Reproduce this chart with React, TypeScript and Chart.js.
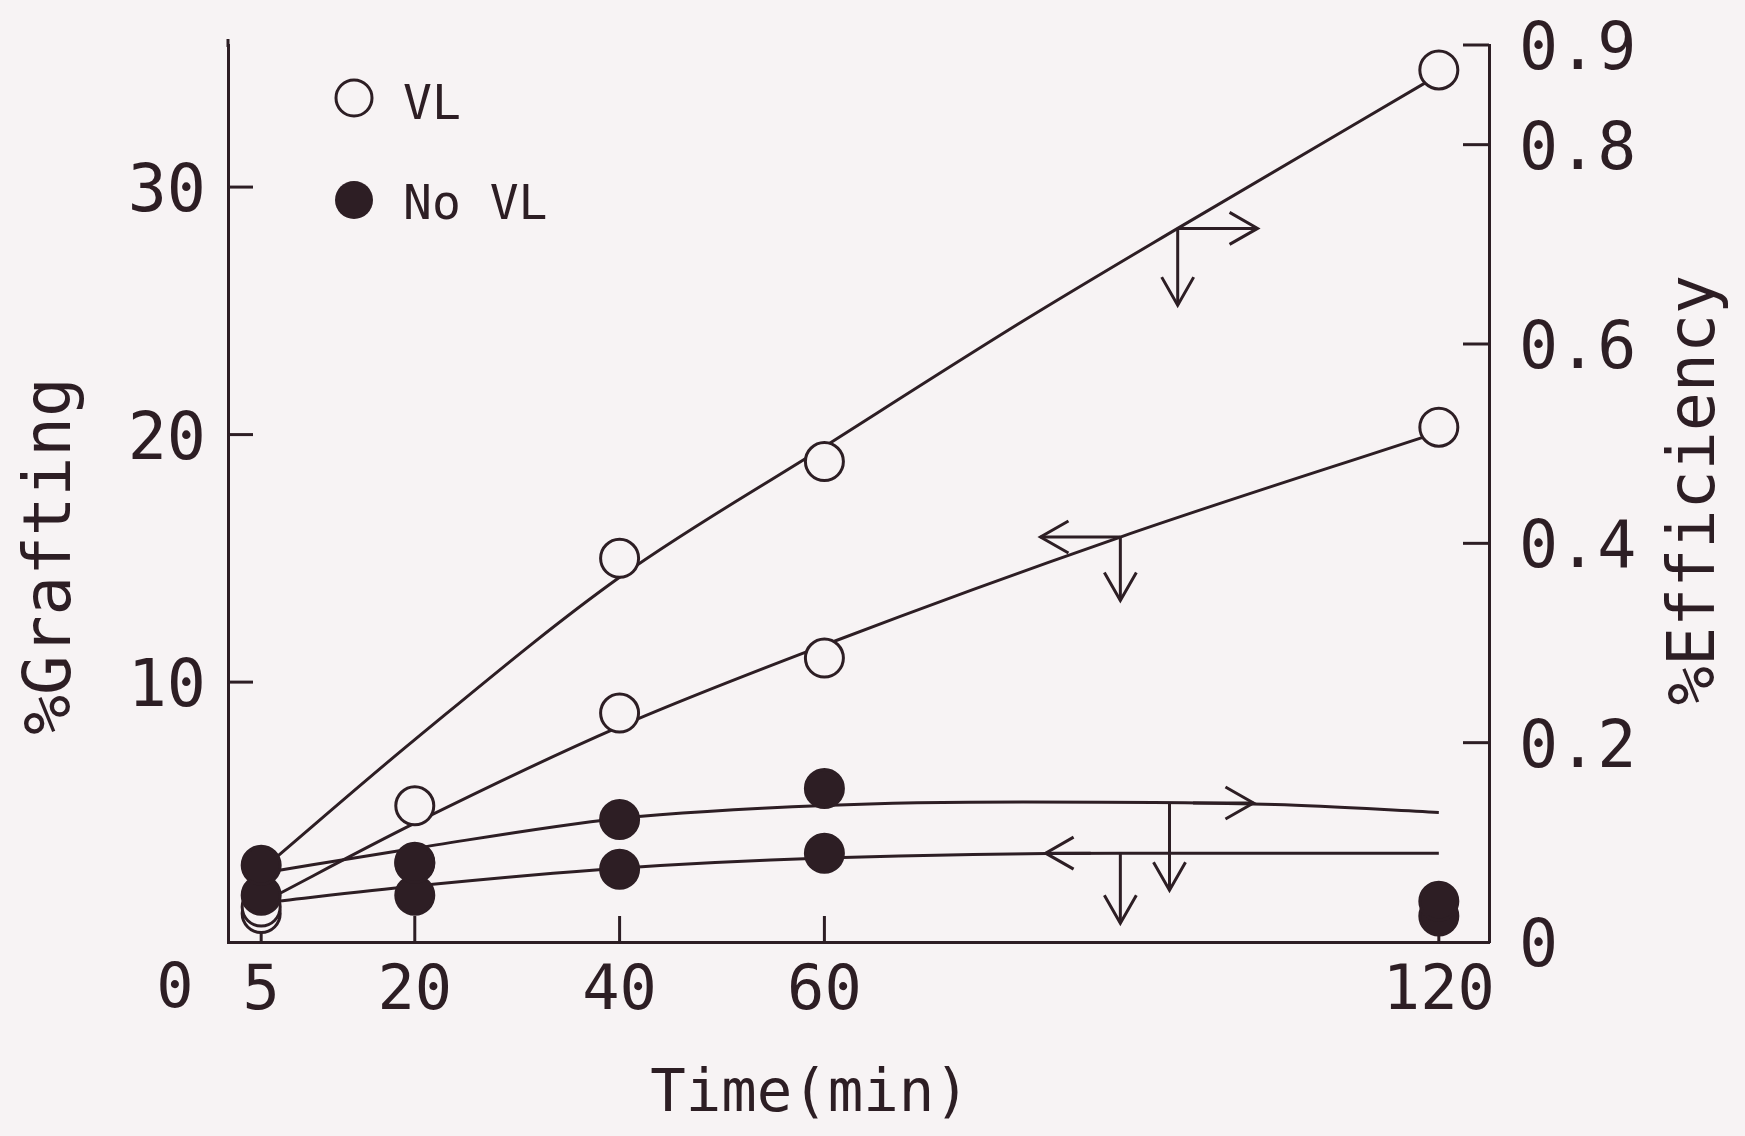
import React, { useEffect, useRef } from "react";
import { Chart, registerables } from "chart.js";

Chart.register(...registerables);

const INK = "#2d1e24";
const PAPER = "#f7f3f4";
const FONT = "'DejaVu Sans Mono', monospace";

// measured points (time in min)
const pointTimes = [5, 20, 40, 60, 120];
const vlGrafting = [0.65, 5.0, 8.75, 10.97, 20.3];
const vlEfficiency = [0.035, 0.08, 0.385, 0.482, 0.875];
const noVlGrafting = [1.39, 1.39, 2.44, 3.09, 0.55];
const noVlEfficiency = [0.077, 0.079, 0.123, 0.154, 0.041];

// hand-drawn fitted curves
const vlGraftCurveX = [5, 20, 40, 60, 88.9, 120];
const vlGraftCurveY = [1.07, 4.3, 8.2, 11.5, 15.86, 20.1];
const vlEffCurveX = [5, 20, 40, 60, 79.4, 94.5, 120];
const vlEffCurveY = [0.072, 0.203, 0.366, 0.497, 0.623, 0.716, 0.87];
const noVlGraftCurveX = [5, 20, 40, 60, 88.9, 120];
const noVlGraftCurveY = [1.07, 1.76, 2.48, 2.89, 3.09, 3.09];
const noVlEffCurveX = [5, 20, 40, 60, 79.4, 104, 120];
const noVlEffCurveY = [0.069, 0.094, 0.124, 0.137, 0.1405, 0.138, 0.13];

// tick labels
const xTicks = [5, 20, 40, 60, 120];
const graftTicks = [10, 20, 30];
const effTicks = [0, 0.2, 0.4, 0.6, 0.8, 0.9];

// axis-indicator arrows: [axis, x1, y1, x2, y2] (head at end)
const arrows: [string, number, number, number, number][] = [
  ["yE", 94.5, 0.716, 102.3, 0.716],
  ["yE", 94.5, 0.716, 94.5, 0.639],
  ["yG", 88.9, 15.86, 81.1, 15.86],
  ["yG", 88.9, 15.86, 88.9, 13.3],
  ["yE", 96, 0.1395, 101.9, 0.1395],
  ["yE", 93.7, 0.14, 93.7, 0.052],
  ["yG", 86, 3.09, 81.6, 3.09],
  ["yG", 88.9, 3.09, 88.9, 0.26],
];

const xy = (xs: number[], ys: number[]) => xs.map((x, i) => ({ x, y: ys[i] }));

function strokeLine(ctx: CanvasRenderingContext2D, x1: number, y1: number, x2: number, y2: number) {
  ctx.beginPath();
  ctx.moveTo(x1, y1);
  ctx.lineTo(x2, y2);
  ctx.stroke();
}

function drawArrow(ctx: CanvasRenderingContext2D, x1: number, y1: number, x2: number, y2: number) {
  strokeLine(ctx, x1, y1, x2, y2);
  const a = Math.atan2(y2 - y1, x2 - x1);
  const L = 28, W = 16;
  const bx = x2 - L * Math.cos(a), by = y2 - L * Math.sin(a);
  const px = -Math.sin(a), py = Math.cos(a);
  ctx.beginPath();
  ctx.moveTo(bx + px * W, by + py * W);
  ctx.lineTo(x2, y2);
  ctx.lineTo(bx - px * W, by - py * W);
  ctx.stroke();
}

const paperPlugin = {
  id: "paper",
  beforeDraw(chart: any) {
    const ctx = chart.ctx;
    ctx.save();
    ctx.fillStyle = PAPER;
    ctx.fillRect(0, 0, chart.width, chart.height);
    ctx.restore();
  },
};

const decorPlugin = {
  id: "decor",
  beforeDatasetsDraw(chart: any) {
    const { ctx, chartArea: ca, scales } = chart;
    ctx.save();
    ctx.strokeStyle = INK;
    ctx.lineWidth = 3;
    for (const v of xTicks) {
      const p = scales.x.getPixelForValue(v);
      strokeLine(ctx, p, ca.bottom, p, ca.bottom - 26);
    }
    for (const v of graftTicks) {
      const p = scales.yG.getPixelForValue(v);
      strokeLine(ctx, ca.left, p, ca.left + 25, p);
    }
    for (const v of effTicks) {
      if (v === 0) continue;
      const p = scales.yE.getPixelForValue(v);
      strokeLine(ctx, ca.right, p, ca.right - 26, p);
    }
    strokeLine(ctx, ca.left, ca.top + 2, ca.left, ca.top - 6);
    ctx.restore();
  },
  afterDatasetsDraw(chart: any) {
    const { ctx, scales } = chart;
    ctx.save();
    ctx.strokeStyle = INK;
    ctx.lineWidth = 3;
    for (const [ax, x1, y1, x2, y2] of arrows) {
      const s = scales[ax];
      drawArrow(
        ctx,
        scales.x.getPixelForValue(x1),
        s.getPixelForValue(y1),
        scales.x.getPixelForValue(x2),
        s.getPixelForValue(y2)
      );
    }
    ctx.restore();
  },
  afterDraw(chart: any) {
    const { ctx, chartArea: ca } = chart;
    ctx.save();
    ctx.fillStyle = INK;
    ctx.strokeStyle = INK;
    ctx.textBaseline = "middle";
    ctx.textAlign = "center";

    // x origin label
    ctx.font = `62px ${FONT}`;
    ctx.fillText("0", ca.left - 53, 991);

    // axis titles
    ctx.font = `59px ${FONT}`;
    ctx.fillText("Time(min)", 810, 1096);

    ctx.save();
    ctx.translate(53, 556);
    ctx.rotate(-Math.PI / 2);
    ctx.font = `66px ${FONT}`;
    ctx.fillText("%Grafting", 0, 0);
    ctx.restore();

    ctx.save();
    ctx.translate(1697, 490);
    ctx.rotate(-Math.PI / 2);
    ctx.font = `65px ${FONT}`;
    ctx.fillText("%Efficiency", 0, 0);
    ctx.restore();

    // legend
    const lx = ca.left + 126;
    ctx.lineWidth = 3;
    ctx.beginPath();
    ctx.arc(lx, ca.top + 53, 18, 0, Math.PI * 2);
    ctx.fillStyle = PAPER;
    ctx.fill();
    ctx.stroke();
    ctx.beginPath();
    ctx.arc(lx, ca.top + 155, 19, 0, Math.PI * 2);
    ctx.fillStyle = INK;
    ctx.fill();
    ctx.textAlign = "left";
    ctx.font = `48px ${FONT}`;
    ctx.fillText("VL", lx + 49, ca.top + 62);
    ctx.fillText("No VL", lx + 49, ca.top + 162);
    ctx.restore();
  },
};

const pointDs = (label: string, data: number[], axis: string, filled: boolean) => ({
  label,
  data: xy(pointTimes, data),
  yAxisID: axis,
  showLine: false,
  pointRadius: 19,
  pointHoverRadius: 19,
  pointBorderWidth: 3,
  pointBackgroundColor: filled ? INK : PAPER,
  pointBorderColor: INK,
  borderColor: INK,
  backgroundColor: filled ? INK : PAPER,
});

const curveDs = (label: string, xs: number[], ys: number[], axis: string) => ({
  label,
  data: xy(xs, ys),
  yAxisID: axis,
  showLine: true,
  pointRadius: 0,
  pointHoverRadius: 0,
  borderWidth: 3,
  borderColor: INK,
  fill: false,
  cubicInterpolationMode: "monotone" as const,
});

const tickFont = (size: number, lh = 1) => ({ family: FONT, size, lineHeight: lh });
// an empty first line nudges the single visible label down so digits centre on the tick
const nudged = (s: string) => ["", s];

export default function App() {
  const ref = useRef<HTMLCanvasElement>(null);

  useEffect(() => {
    if (!ref.current) return;
    const chart = new Chart(ref.current, {
      type: "line",
      data: {
        datasets: [
          pointDs("No VL efficiency", noVlEfficiency, "yE", true),
          pointDs("No VL grafting", noVlGrafting, "yG", true),
          pointDs("VL efficiency", vlEfficiency, "yE", false),
          pointDs("VL grafting", vlGrafting, "yG", false),
          curveDs("VL efficiency fit", vlEffCurveX, vlEffCurveY, "yE"),
          curveDs("VL grafting fit", vlGraftCurveX, vlGraftCurveY, "yG"),
          curveDs("No VL efficiency fit", noVlEffCurveX, noVlEffCurveY, "yE"),
          curveDs("No VL grafting fit", noVlGraftCurveX, noVlGraftCurveY, "yG"),
        ] as any,
      },
      options: {
        animation: false,
        responsive: false,
        maintainAspectRatio: false,
        devicePixelRatio: 1,
        events: [],
        layout: { padding: { top: 45, left: 0, right: 0, bottom: 0 } },
        plugins: { legend: { display: false }, tooltip: { enabled: false } },
        scales: {
          x: {
            type: "linear",
            position: "bottom",
            min: 1.76,
            max: 124.9,
            afterFit: (s: any) => { s.height = 194; s.paddingLeft = 0; s.paddingRight = 0; },
            afterBuildTicks: (s: any) => { s.ticks = xTicks.map((v) => ({ value: v })); },
            grid: { display: false, drawTicks: false },
            border: { display: true, color: INK, width: 3 },
            ticks: {
              autoSkip: false,
              maxRotation: 0,
              minRotation: 0,
              padding: 20,
              color: INK,
              font: tickFont(62),
              callback: (v: any) => String(v),
            },
          },
          yG: {
            type: "linear",
            position: "left",
            min: -0.5,
            max: 35.74,
            afterFit: (s: any) => { s.width = 228; s.paddingTop = 0; s.paddingBottom = 0; },
            afterBuildTicks: (s: any) => { s.ticks = graftTicks.map((v) => ({ value: v })); },
            grid: { display: false, drawTicks: false },
            border: { display: true, color: INK, width: 3 },
            ticks: {
              autoSkip: false,
              padding: 22,
              color: INK,
              font: tickFont(65, 0.22),
              callback: (v: any) => nudged(String(v)),
            },
          },
          yE: {
            type: "linear",
            position: "right",
            min: 0,
            max: 0.9,
            afterFit: (s: any) => { s.width = 256; s.paddingTop = 0; s.paddingBottom = 0; },
            afterBuildTicks: (s: any) => { s.ticks = effTicks.map((v) => ({ value: v })); },
            grid: { display: false, drawTicks: false },
            border: { display: true, color: INK, width: 3 },
            ticks: {
              autoSkip: false,
              padding: 30,
              color: INK,
              font: tickFont(65, 0.22),
              callback: (v: any) => nudged(v === 0 ? "0" : Number(v).toFixed(1)),
            },
          },
        },
      } as any,
      plugins: [paperPlugin, decorPlugin],
    });
    return () => chart.destroy();
  }, []);

  return (
    <div style={{ position: "fixed", left: 0, top: 0, width: 1745, height: 1136, background: PAPER }}>
      <canvas ref={ref} width={1745} height={1136} style={{ display: "block", width: 1745, height: 1136 }} />
    </div>
  );
}
